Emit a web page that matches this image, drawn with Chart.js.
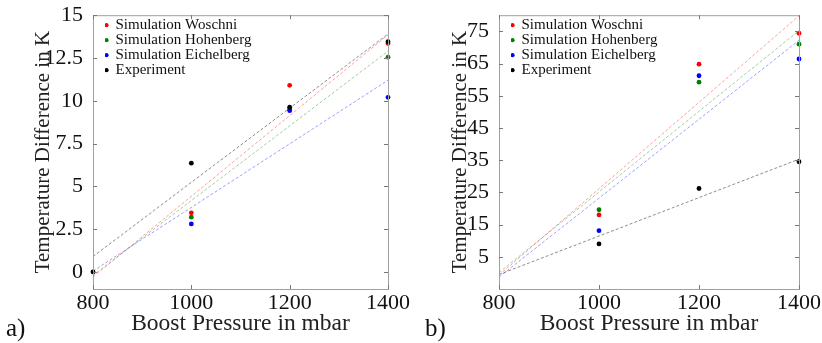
<!DOCTYPE html>
<html>
<head>
<meta charset="utf-8">
<script src="https://cdn.jsdelivr.net/npm/chart.js@4.4.1/dist/chart.umd.min.js"></script>
<style>
  body { margin: 0; background: #fff; }
  #wrap { position: relative; width: 822px; height: 343px; }
  .panel { position: absolute; top: 0; width: 411px; height: 343px; }
  .tag { position: absolute; top: 314px; font: 25px 'Liberation Serif', serif; color: #111; }
</style>
</head>
<body>
<div id="wrap">
  <div class="panel" style="left:0"><canvas id="chartA" width="411" height="343"></canvas></div>
  <div class="panel" style="left:411px"><canvas id="chartB" width="411" height="343"></canvas></div>
  <div class="tag" style="left:6px">a)</div>
  <div class="tag" style="left:425px">b)</div>
</div>
<script>
const pressures = [800, 1000, 1200, 1400];
const fitPressures = [800, 1400];
const xTicks = [800, 1000, 1200, 1400];

// panel a)
const woschniA = [null, 3.45, 10.9, 13.35];
const hohenbergA = [null, 3.2, 9.5, 12.55];
const eichelbergA = [null, 2.8, 9.42, 10.2];
const experimentA = [0, 6.35, 9.62, 13.45];
const woschniFitA = [-0.3, 13.85];
const hohenbergFitA = [-0.2, 12.9];
const eichelbergFitA = [0.05, 11.2];
const experimentFitA = [0.9, 13.9];
const yTicksA = [0, 2.5, 5, 7.5, 10, 12.5, 15];

// panel b)
const woschniB = [null, 18.0, 64.8, 74.4];
const hohenbergB = [null, 19.6, 59.2, 71.0];
const eichelbergB = [null, 13.1, 61.2, 66.4];
const experimentB = [null, 9.0, 26.2, 34.5];
const woschniFitB = [-0.7, 79.8];
const hohenbergFitB = [0.1, 75.2];
const eichelbergFitB = [-1.3, 72.2];
const experimentFitB = [-0.5, 35.3];
const yTicksB = [5, 15, 25, 35, 45, 55, 65, 75];

const serif = "'Liberation Serif', 'Times New Roman', serif";
const labels = ['Simulation Woschni', 'Simulation Hohenberg', 'Simulation Eichelberg', 'Experiment'];
const dotColors = ['#ff0000', '#008000', '#0000ff', '#000000'];
const fitColors = ['rgba(255,0,0,0.38)', 'rgba(0,128,0,0.38)', 'rgba(0,0,255,0.38)', 'rgba(0,0,0,0.45)'];

function toPoints(xs, ys) {
    return xs.map((x, i) => ({ x: x, y: ys[i] })).filter(p => p.y !== null);
}

// box around the plot with inward ticks, legend nudged into the corner
const framePlugin = {
    id: 'frame',
    afterLayout(chart) {
        const a = chart.chartArea;
        chart.legend.left = a.left + 12;
        chart.legend.top = a.top + 2.5;
    },
    afterDatasetsDraw(chart) {
        const { ctx, chartArea: a, scales } = chart;
        ctx.save();
        ctx.strokeStyle = '#a0a0a0';
        ctx.lineWidth = 1;
        ctx.strokeRect(a.left + 0.5, a.top + 0.5, a.right - a.left, a.bottom - a.top);
        ctx.strokeStyle = '#777';
        ctx.beginPath();
        scales.y.ticks.forEach(t => {
            const y = Math.round(scales.y.getPixelForValue(t.value)) + 0.5;
            ctx.moveTo(a.left, y); ctx.lineTo(a.left + 4, y);
            ctx.moveTo(a.right, y); ctx.lineTo(a.right - 4, y);
        });
        scales.x.ticks.forEach(t => {
            const x = Math.round(scales.x.getPixelForValue(t.value)) + 0.5;
            ctx.moveTo(x, a.bottom); ctx.lineTo(x, a.bottom - 4);
            ctx.moveTo(x, a.top); ctx.lineTo(x, a.top + 4);
        });
        ctx.stroke();
        ctx.restore();
    }
};

function makeChart(id, series, fits, yMin, yMax, yTicks, padLeft, yWidth) {
    const datasets = [];
    series.forEach((ys, i) => {
        datasets.push({
            label: labels[i],
            data: toPoints(pressures, ys),
            backgroundColor: dotColors[i],
            borderColor: dotColors[i],
            pointRadius: 2.4,
            pointHoverRadius: 2.4,
            borderWidth: 0,
            order: 3 - i,
            clip: false
        });
    });
    fits.forEach((ys, i) => {
        datasets.push({
            label: '',
            data: toPoints(fitPressures, ys),
            showLine: true,
            borderColor: fitColors[i],
            backgroundColor: fitColors[i],
            borderWidth: 1,
            borderDash: [3, 2],
            pointRadius: 0,
            order: 10
        });
    });

    return new Chart(document.getElementById(id).getContext('2d'), {
        type: 'scatter',
        data: { datasets: datasets },
        options: {
            responsive: false,
            animation: false,
            layout: { padding: { left: padLeft, right: 23, top: 15, bottom: 0 } },
            plugins: {
                legend: {
                    position: 'chartArea',
                    align: 'start',
                    labels: {
                        usePointStyle: true,
                        pointStyle: 'circle',
                        boxWidth: 3,
                        boxHeight: 3,
                        padding: 0,
                        color: '#111',
                        font: { family: serif, size: 15 },
                        filter: item => item.text !== '',
                        sort: (a, b) => a.datasetIndex - b.datasetIndex
                    }
                },
                tooltip: { enabled: false }
            },
            scales: {
                x: {
                    type: 'linear',
                    min: 800,
                    max: 1400,
                    grid: { display: false },
                    border: { display: false },
                    afterBuildTicks: s => { s.ticks = xTicks.map(v => ({ value: v })); },
                    afterFit: s => { s.height = 54; },
                    ticks: {
                        padding: -7,
                        color: '#111',
                        font: { family: serif, size: 22 },
                        callback: v => String(v)
                    },
                    title: {
                        display: true,
                        text: 'Boost Pressure in mbar',
                        color: '#222',
                        font: { family: serif, size: 23.5 },
                        padding: { top: 0, bottom: 5 }
                    }
                },
                y: {
                    type: 'linear',
                    min: yMin,
                    max: yMax,
                    grid: { display: false },
                    border: { display: false },
                    afterBuildTicks: s => { s.ticks = yTicks.map(v => ({ value: v })); },
                    afterFit: s => { s.width = yWidth; },
                    ticks: {
                        padding: 2,
                        color: '#111',
                        font: { family: serif, size: 22 },
                        callback: v => String(v)
                    },
                    title: {
                        display: true,
                        text: 'Temperature Difference in K',
                        color: '#222',
                        font: { family: serif, size: 21 },
                        padding: { top: 0, bottom: 0 }
                    }
                }
            }
        },
        plugins: [framePlugin]
    });
}

makeChart('chartA',
    [woschniA, hohenbergA, eichelbergA, experimentA],
    [woschniFitA, hohenbergFitA, eichelbergFitA, experimentFitA],
    -1, 15, yTicksA, 31, 62);

makeChart('chartB',
    [woschniB, hohenbergB, eichelbergB, experimentB],
    [woschniFitB, hohenbergFitB, eichelbergFitB, experimentFitB],
    -5, 80, yTicksB, 37, 51);
</script>
</body>
</html>
